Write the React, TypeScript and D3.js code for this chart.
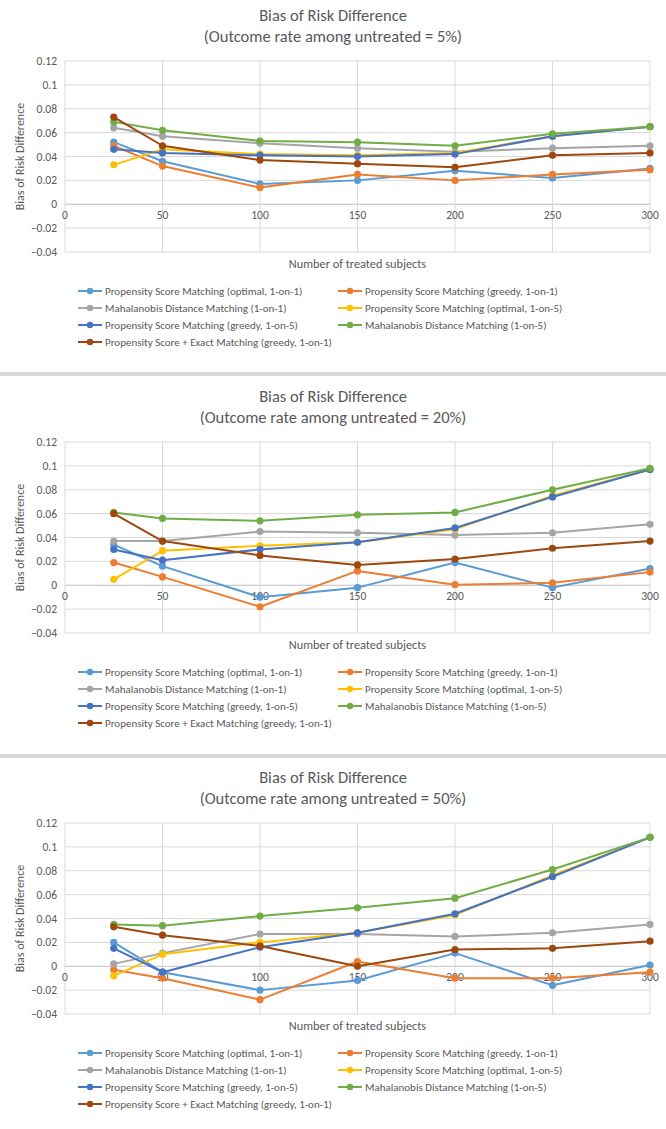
import React, { useEffect, useRef } from 'react';
import * as d3 from 'd3';

const xValues = [25, 50, 100, 150, 200, 250, 300];
const xTicks = [0, 50, 100, 150, 200, 250, 300];
const yTicks = [-0.04, -0.02, 0, 0.02, 0.04, 0.06, 0.08, 0.1, 0.12];

const seriesNames = [
  'Propensity Score Matching (optimal, 1-on-1)',
  'Propensity Score Matching (greedy, 1-on-1)',
  'Mahalanobis Distance Matching (1-on-1)',
  'Propensity Score Matching (optimal, 1-on-5)',
  'Propensity Score Matching (greedy, 1-on-5)',
  'Mahalanobis Distance Matching (1-on-5)',
  'Propensity Score + Exact Matching (greedy, 1-on-1)',
];
const seriesColors = ['#5B9BD5', '#ED7D31', '#A5A5A5', '#FFC000', '#4472C4', '#70AD47', '#9E480E'];

const panelTitles = ['5%', '20%', '50%'];

// outcome rate 5%
const rate5 = [
  [0.052, 0.036, 0.017, 0.02, 0.028, 0.022, 0.03],
  [0.049, 0.032, 0.014, 0.025, 0.02, 0.025, 0.029],
  [0.064, 0.057, 0.051, 0.047, 0.044, 0.047, 0.049],
  [0.033, 0.046, 0.042, 0.041, 0.043, 0.057, 0.065],
  [0.046, 0.043, 0.041, 0.04, 0.042, 0.057, 0.065],
  [0.069, 0.062, 0.053, 0.052, 0.049, 0.059, 0.065],
  [0.073, 0.049, 0.037, 0.034, 0.031, 0.041, 0.043],
];

// outcome rate 20%
const rate20 = [
  [0.034, 0.016, -0.01, -0.002, 0.019, -0.002, 0.014],
  [0.019, 0.007, -0.018, 0.012, 0.0005, 0.002, 0.011],
  [0.037, 0.037, 0.045, 0.044, 0.042, 0.044, 0.051],
  [0.005, 0.029, 0.033, 0.036, 0.047, 0.075, 0.097],
  [0.03, 0.021, 0.03, 0.036, 0.048, 0.074, 0.097],
  [0.061, 0.056, 0.054, 0.059, 0.061, 0.08, 0.098],
  [0.06, 0.037, 0.025, 0.017, 0.022, 0.031, 0.037],
];

// outcome rate 50%
const rate50 = [
  [0.02, -0.005, -0.02, -0.012, 0.011, -0.016, 0.001],
  [-0.003, -0.01, -0.028, 0.004, -0.01, -0.01, -0.005],
  [0.002, 0.011, 0.027, 0.027, 0.025, 0.028, 0.035],
  [-0.008, 0.01, 0.02, 0.028, 0.043, 0.076, 0.108],
  [0.015, -0.005, 0.016, 0.028, 0.044, 0.075, 0.108],
  [0.035, 0.034, 0.042, 0.049, 0.057, 0.081, 0.108],
  [0.033, 0.026, 0.017, 0.0, 0.014, 0.015, 0.021],
];

const panels = [rate5, rate20, rate50];

const W = 666;
const H = 1129;
const FONT = 'Carlito, Calibri, "Liberation Sans Narrow", "Open Sans", sans-serif';
const TEXT = '#595959';

const App = () => {
  const ref = useRef<SVGSVGElement>(null);

  useEffect(() => {
    document.body.style.margin = '0';
    const svg = d3.select(ref.current);
    svg.selectAll('*').remove();
    svg.append('rect').attr('width', W).attr('height', H).attr('fill', '#fff');

    // separators between panels
    [372, 754].forEach((sy) => {
      svg.append('rect').attr('x', 0).attr('y', sy).attr('width', W).attr('height', 4).attr('fill', '#d9d9d9');
    });

    panels.forEach((data, pi) => {
      const oy = pi * 381;
      const g = svg.append('g').attr('transform', `translate(0,${oy})`).style('font-family', FONT);

      const x = d3.scaleLinear().domain([0, 300]).range([65, 650]);
      const y = d3.scaleLinear().domain([-0.04, 0.12]).range([252, 61]);

      // titles
      g.append('text').attr('x', 333).attr('y', 21).attr('text-anchor', 'middle')
        .attr('font-size', 16.5).attr('fill', TEXT).text('Bias of Risk Difference');
      g.append('text').attr('x', 333).attr('y', 42).attr('text-anchor', 'middle')
        .attr('font-size', 16.5).attr('fill', TEXT).text(`(Outcome rate among untreated = ${panelTitles[pi]})`);

      // grid
      g.append('g').selectAll('line').data(yTicks).enter().append('line')
        .attr('x1', x(0)).attr('x2', x(300))
        .attr('y1', (d) => y(d)).attr('y2', (d) => y(d))
        .attr('stroke', (d) => (d === 0 ? '#bfbfbf' : '#d9d9d9')).attr('stroke-width', 1);
      g.append('g').selectAll('line').data(xTicks).enter().append('line')
        .attr('x1', (d) => x(d)).attr('x2', (d) => x(d))
        .attr('y1', y(0.12)).attr('y2', y(-0.04))
        .attr('stroke', '#d9d9d9').attr('stroke-width', 1);

      // y tick labels
      g.append('g').selectAll('text').data(yTicks).enter().append('text')
        .attr('x', 57).attr('y', (d) => y(d) + 4).attr('text-anchor', 'end')
        .attr('font-size', 11.5).attr('fill', TEXT)
        .text((d) => d3.format('~g')(Math.round(d * 100) / 100));

      // x tick labels next to the zero line
      g.append('g').selectAll('text').data(xTicks).enter().append('text')
        .attr('x', (d) => x(d)).attr('y', y(0) + 15).attr('text-anchor', 'middle')
        .attr('font-size', 11.5).attr('fill', TEXT).text((d) => d);

      // axis titles
      g.append('text').attr('x', (x(0) + x(300)) / 2).attr('y', 268).attr('text-anchor', 'middle')
        .attr('font-size', 12.3).attr('fill', TEXT).text('Number of treated subjects');
      g.append('text').attr('transform', `translate(24,${(y(0.12) + y(-0.04)) / 2}) rotate(-90)`)
        .attr('text-anchor', 'middle').attr('font-size', 12).attr('fill', TEXT)
        .text('Bias of Risk Difference');

      // series
      const line = d3.line<number>().x((_, i) => x(xValues[i])).y((d) => y(d));
      data.forEach((vals, si) => {
        const s = g.append('g');
        s.append('path').datum(vals).attr('d', line).attr('fill', 'none')
          .attr('stroke', seriesColors[si]).attr('stroke-width', 2).attr('stroke-linejoin', 'round');
        s.selectAll('circle').data(vals).enter().append('circle')
          .attr('cx', (_, i) => x(xValues[i])).attr('cy', (d) => y(d)).attr('r', 3.6)
          .attr('fill', seriesColors[si]);
      });

      // legend
      const leg = g.append('g');
      seriesNames.forEach((name, si) => {
        const lx = si % 2 === 0 ? 78 : 338;
        const ly = 291 + Math.floor(si / 2) * 17;
        leg.append('line').attr('x1', lx).attr('x2', lx + 24).attr('y1', ly).attr('y2', ly)
          .attr('stroke', seriesColors[si]).attr('stroke-width', 2);
        leg.append('circle').attr('cx', lx + 12).attr('cy', ly).attr('r', 3.2).attr('fill', seriesColors[si]);
        leg.append('text').attr('x', lx + 27).attr('y', ly + 4).attr('font-size', 11)
          .attr('fill', TEXT).text(name);
      });
    });
  }, []);

  return <svg ref={ref} width={W} height={H} style={{ display: 'block' }} />;
};

export default App;
